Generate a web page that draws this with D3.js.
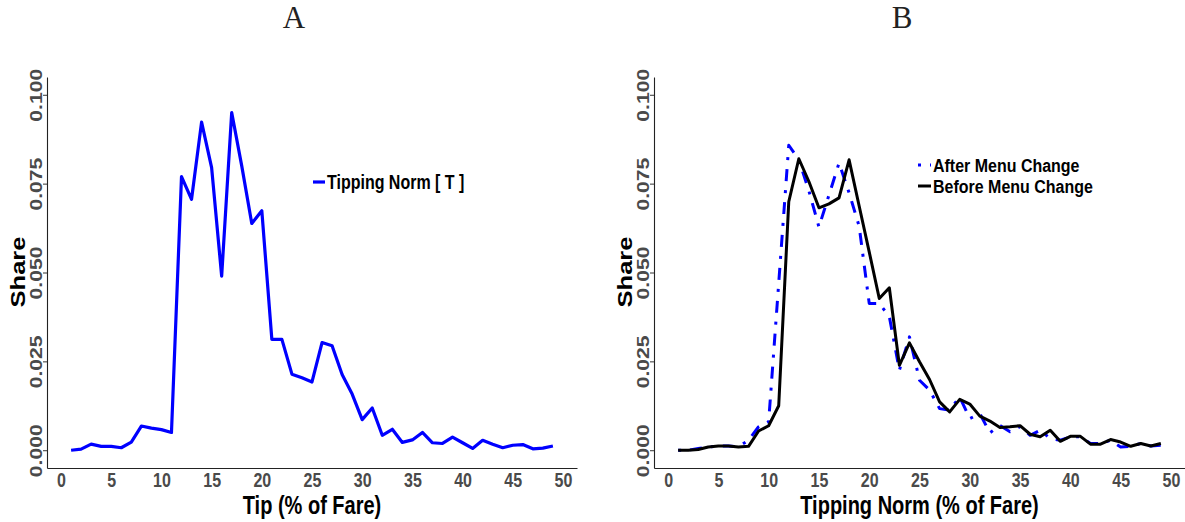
<!DOCTYPE html>
<html>
<head>
<meta charset="utf-8">
<script src="https://cdn.jsdelivr.net/npm/d3@7"></script>
<style>
  html, body { margin: 0; padding: 0; background: #fff; }
  svg { display: block; }
  .sans { font-family: "Liberation Sans", Arial, sans-serif; }
  .serif { font-family: "Liberation Serif", "DejaVu Serif", serif; }
</style>
</head>
<body>
<svg id="fig" width="1185" height="522" class="sans"></svg>
<script>
// Tip / tipping-norm percentage (x) shared by both panels
const tipPercent = [1,2,3,4,5,6,7,8,9,10,11,12,13,14,15,16,17,18,19,20,21,22,23,24,25,
                    26,27,28,29,30,31,32,33,34,35,36,37,38,39,40,41,42,43,44,45,46,47,48,49];

// Panel A: distribution of the tipping norm
const tippingNorm = [0.0000,0.0003,0.0017,0.0011,0.0011,0.0007,0.0023,0.0068,0.0062,0.0058,
                     0.0050,0.0770,0.0706,0.0923,0.0795,0.0490,0.0950,0.0800,0.0638,0.0674,
                     0.0312,0.0312,0.0214,0.0204,0.0192,0.0303,0.0294,0.0213,0.0158,0.0086,
                     0.0119,0.0042,0.0059,0.0022,0.0029,0.0050,0.0021,0.0019,0.0037,0.0021,
                     0.0005,0.0028,0.0017,0.0007,0.0014,0.0016,0.0004,0.0006,0.0012];

// Panel B: tipping norm after / before the menu change
const afterMenu = [0.0000,0.0000,0.0005,0.0009,0.0012,0.0012,0.0010,0.0028,0.0066,0.0080,
                   0.0470,0.0858,0.0817,0.0730,0.0628,0.0718,0.0808,0.0724,0.0630,0.0413,
                   0.0413,0.0376,0.0225,0.0319,0.0197,0.0169,0.0117,0.0113,0.0150,0.0089,
                   0.0103,0.0049,0.0070,0.0052,0.0066,0.0042,0.0056,0.0033,0.0028,0.0038,
                   0.0038,0.0019,0.0019,0.0028,0.0009,0.0011,0.0019,0.0012,0.0014];
const beforeMenu = [0.0000,0.0000,0.0002,0.0009,0.0012,0.0012,0.0009,0.0011,0.0054,0.0069,
                    0.0125,0.0699,0.0820,0.0756,0.0682,0.0693,0.0710,0.0817,0.0687,0.0558,
                    0.0427,0.0457,0.0239,0.0302,0.0249,0.0199,0.0136,0.0108,0.0143,0.0130,
                    0.0096,0.0082,0.0064,0.0066,0.0069,0.0045,0.0038,0.0056,0.0025,0.0039,
                    0.0039,0.0017,0.0017,0.0030,0.0023,0.0011,0.0019,0.0012,0.0019];

const xTicks = [0,5,10,15,20,25,30,35,40,45,50];
const yTicks = [0, 0.025, 0.05, 0.075, 0.1];

const STRETCH = 1.28;           // plot text is drawn tall and narrow
const TICK_GREY = "#4a4a4a";

const svg = d3.select("#fig");

function panel(opts) {
  const { left, right, top, bottom } = opts;
  const x = d3.scaleLinear().domain([-1.4, 51.4]).range([left, right]);
  const y = d3.scaleLinear().domain([-0.005, 0.105]).range([bottom, top]);
  const g = svg.append("g");

  // x axis
  const gx = g.append("g")
    .attr("transform", `translate(0,${bottom})`)
    .call(d3.axisBottom(x).tickValues(xTicks).tickSize(0).tickSizeOuter(0));
  gx.attr("font-family", null);
  gx.select(".domain").attr("stroke", "#222").attr("stroke-width", 1.1);
  gx.selectAll("text")
    .attr("y", null).attr("dy", null)
    .attr("transform", `translate(0,19) scale(1,${STRETCH})`)
    .attr("text-anchor", "middle")
    .attr("fill", TICK_GREY)
    .attr("font-size", 16).attr("font-weight", "bold");

  // y axis
  const gy = g.append("g")
    .attr("transform", `translate(${left},0)`)
    .call(d3.axisLeft(y).tickValues(yTicks).tickSize(4).tickSizeOuter(0)
      .tickFormat(d3.format(".3f")));
  gy.attr("font-family", null);
  gy.select(".domain").attr("stroke", "#222").attr("stroke-width", 1.1);
  gy.selectAll(".tick line").attr("stroke", "#333").attr("stroke-width", 1);
  gy.selectAll("text")
    .attr("x", null).attr("dy", null)
    .attr("transform", `translate(-5,0) rotate(-90) scale(${STRETCH},1)`)
    .attr("text-anchor", "middle")
    .attr("fill", TICK_GREY)
    .attr("font-size", 16.5).attr("font-weight", "bold");

  // axis titles
  g.append("text")
    .attr("transform", `translate(${(left + right) / 2},514) scale(1,${STRETCH})`)
    .attr("text-anchor", "middle")
    .attr("font-size", 20).attr("font-weight", "bold").attr("fill", "#000")
    .text(opts.xTitle);
  g.append("text")
    .attr("transform", `translate(${left - 22},272) rotate(-90) scale(${STRETCH},1)`)
    .attr("text-anchor", "middle")
    .attr("font-size", 20).attr("font-weight", "bold").attr("fill", "#000")
    .text("Share");

  // panel letter
  svg.append("text")
    .attr("class", "serif")
    .attr("x", opts.letterX).attr("y", 28)
    .attr("text-anchor", "middle")
    .attr("font-size", 31).attr("fill", "#222")
    .text(opts.letter);

  return { g, x, y };
}

const line = (x, y) => d3.line().x((d, i) => x(tipPercent[i])).y(d => y(d));

// ----- Panel A -----
const A = panel({ left: 47, right: 577, top: 77, bottom: 468,
                  xTitle: "Tip (% of Fare)", letter: "A", letterX: 294 });
A.g.append("path")
  .datum(tippingNorm)
  .attr("d", line(A.x, A.y))
  .attr("fill", "none").attr("stroke", "#0000ff")
  .attr("stroke-width", 3.2).attr("stroke-linejoin", "round");

// legend A
A.g.append("line").attr("x1", 313).attr("x2", 325).attr("y1", 182).attr("y2", 182)
  .attr("stroke", "#0000ff").attr("stroke-width", 3.2);
A.g.append("text")
  .attr("transform", `translate(327,189) scale(1,${STRETCH})`)
  .attr("font-size", 16).attr("font-weight", "bold").attr("fill", "#000")
  .text("Tipping Norm [ T ]");

// ----- Panel B -----
const B = panel({ left: 654, right: 1185, top: 77, bottom: 468,
                  xTitle: "Tipping Norm (% of Fare)", letter: "B", letterX: 902 });
B.g.append("path")
  .datum(afterMenu)
  .attr("d", line(B.x, B.y))
  .attr("fill", "none").attr("stroke", "#0000ff")
  .attr("stroke-width", 3).attr("stroke-dasharray", "3,9,12,9")
  .attr("stroke-linejoin", "round");
B.g.append("path")
  .datum(beforeMenu)
  .attr("d", line(B.x, B.y))
  .attr("fill", "none").attr("stroke", "#000")
  .attr("stroke-width", 3).attr("stroke-linejoin", "round");

// legend B
const legendB = [
  { label: "After Menu Change", color: "#0000ff", dash: "3,9,12,9", cy: 165 },
  { label: "Before Menu Change", color: "#000", dash: null, cy: 186 }
];
legendB.forEach(k => {
  B.g.append("line").attr("x1", 918).attr("x2", 931).attr("y1", k.cy).attr("y2", k.cy)
    .attr("stroke", k.color).attr("stroke-width", 3)
    .attr("stroke-dasharray", k.dash);
  B.g.append("text")
    .attr("transform", `translate(933,${k.cy + 6.5}) scale(1,1.12)`)
    .attr("font-size", 16).attr("font-weight", "bold").attr("fill", "#000")
    .text(k.label);
});
</script>
</body>
</html>
